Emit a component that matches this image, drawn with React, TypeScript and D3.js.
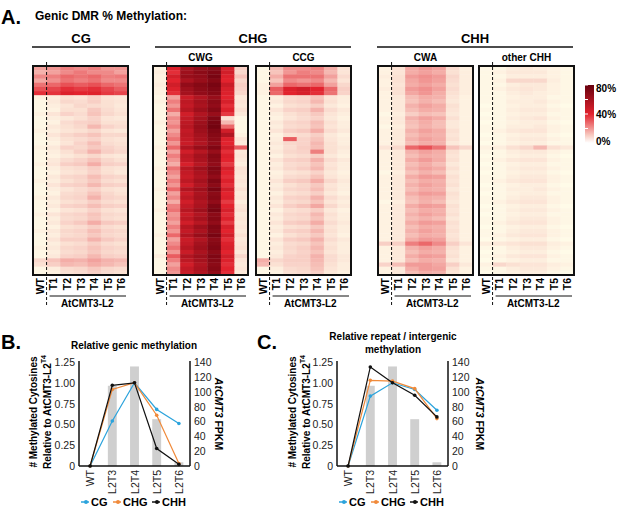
import * as d3 from "d3";

const FONT = "Arial, 'Liberation Sans', Helvetica, sans-serif";

// ---- panel A: genic DMR methylation (% per row, columns WT, T1..T6) ----
const SAMPLES = ["WT", "T1", "T2", "T3", "T4", "T5", "T6"];

const CG_ROWS = [
  "18 20 24 22 24 20 20", "15 18 22 25 22 22 18", "22 24 28 26 28 24 25",
  "17 21 26 24 26 22 22", "26 28 32 30 32 28 26", "32 34 38 36 38 34 30",
  "38 37 42 40 41 36 34", "2 3 6 5 9 5 4", "1 4 8 7 10 6 5", "1 3 5 8 7 6 4",
  "1 2 6 6 11 7 5", "2 5 9 7 12 8 6", "1 3 4 6 9 5 4", "1 2 7 9 10 6 6",
  "1 4 6 8 14 9 7", "2 3 5 6 8 5 4", "1 5 8 10 12 8 8", "1 3 6 7 9 6 5",
  "1 2 5 9 13 7 6", "2 4 9 8 11 9 7", "1 3 6 10 15 10 8", "1 2 4 6 8 5 4",
  "1 4 7 9 12 8 6", "2 5 10 11 16 10 9", "1 3 6 7 10 6 5", "1 2 5 6 9 6 4",
  "1 4 8 9 13 9 8", "2 3 6 8 11 7 6", "1 5 9 10 14 10 9", "1 3 5 7 9 6 5",
  "1 2 7 8 12 8 6", "2 4 8 9 15 9 8", "1 3 6 7 10 7 6", "1 4 9 10 13 10 9",
  "1 2 5 6 9 6 5", "2 5 8 9 12 8 7", "1 3 7 8 11 7 6", "1 4 9 11 16 11 10",
  "1 2 6 7 10 7 6", "2 4 8 9 13 9 8", "1 3 7 8 11 8 7", "1 5 10 10 15 11 9",
  "1 3 6 7 10 7 6", "2 4 8 9 12 9 8", "1 3 7 8 11 8 7", "1 4 9 10 14 10 9",
  "8 12 16 15 18 15 14", "6 10 14 13 16 14 12", "1 3 7 8 11 8 7", "1 2 6 7 10 7 6",
];

const CWG_ROWS = [
  "2 42 60 66 70 44 10", "3 38 62 68 72 46 8", "2 45 64 66 74 42 12",
  "2 40 58 64 70 40 8", "3 46 66 70 74 48 10", "2 42 62 68 72 44 9",
  "2 38 60 66 70 42 8", "1 18 48 56 64 40 4", "2 24 52 60 68 44 5",
  "1 20 50 58 66 38 4", "1 26 54 62 70 42 6", "1 16 46 56 64 36 4",
  "1 22 50 60 72 6 1", "2 20 52 62 74 14 1", "1 24 54 64 76 28 1",
  "1 18 50 62 72 46 1", "1 22 52 60 70 56 2", "1 26 50 58 68 42 5",
  "1 20 48 56 66 40 4", "2 28 56 64 72 46 30", "1 18 46 54 64 38 4",
  "1 24 52 60 70 42 5", "1 20 50 58 68 40 4", "1 16 44 54 66 36 3",
  "2 26 54 62 72 44 6", "1 22 50 58 70 40 5", "1 18 48 56 66 38 4",
  "1 24 52 60 72 42 5", "1 20 46 56 68 38 4", "2 28 56 62 74 46 6",
  "1 18 48 58 68 40 4", "1 22 52 60 70 42 5", "1 16 46 56 66 36 3",
  "1 24 50 58 72 40 5", "2 26 54 62 74 44 6", "1 20 48 56 68 38 4",
  "1 22 52 60 70 42 5", "1 18 46 54 66 36 4", "1 24 54 62 72 44 5",
  "1 20 50 58 70 40 4", "2 28 56 64 74 46 6", "1 18 48 56 68 38 4",
  "1 22 50 60 70 42 5", "1 26 54 62 72 44 6", "1 20 48 58 68 40 4",
  "3 30 56 62 72 46 8", "1 24 52 60 70 42 5", "1 18 46 56 68 38 4",
  "1 22 50 58 70 40 5", "1 20 48 56 66 38 4",
];

const CCG_ROWS = [
  "1 14 22 22 24 16 6", "1 12 20 24 22 14 5", "1 16 26 26 26 18 7",
  "1 12 22 20 22 14 5", "2 18 28 26 28 18 8", "2 30 42 46 40 28 10",
  "2 28 40 44 38 26 9", "1 3 7 8 12 5 3", "1 4 8 9 14 6 3", "1 2 6 7 10 4 2",
  "1 5 9 10 15 7 4", "1 3 6 8 11 5 3", "1 2 5 7 9 4 2", "1 4 8 9 13 6 3",
  "1 3 7 8 12 5 3", "1 5 10 11 16 7 4", "1 2 6 7 10 4 2", "1 3 30 9 12 5 3",
  "1 4 8 9 14 6 3", "1 3 7 10 13 6 4", "1 4 8 9 24 6 3", "1 2 6 7 10 4 2",
  "1 5 9 10 15 7 4", "1 3 7 8 12 5 3", "1 4 8 10 14 6 3", "1 2 5 6 9 4 2",
  "1 3 7 8 12 5 3", "1 5 10 11 16 8 4", "1 3 6 8 11 5 3", "1 4 8 9 13 6 3",
  "1 2 6 7 10 4 2", "1 4 9 10 15 7 4", "1 3 7 8 12 5 3", "1 5 10 12 17 8 4",
  "1 2 6 7 10 4 2", "1 4 8 9 14 6 3", "1 3 7 8 12 5 3", "1 5 10 11 16 7 4",
  "1 3 6 7 11 5 3", "1 4 9 10 14 6 3", "1 2 6 8 11 5 2", "1 5 10 11 15 7 4",
  "1 3 7 8 12 5 3", "1 4 8 10 14 6 3", "1 3 7 9 12 5 3", "1 4 9 10 15 7 4",
  "16 8 10 10 14 7 4", "14 6 9 9 13 6 3", "1 3 7 8 12 5 3", "1 2 6 7 10 4 2",
];

const CWA_ROWS = [
  "2 6 17 20 18 7 3", "2 5 16 18 16 6 3", "3 6 19 21 19 8 3",
  "2 6 17 20 18 7 3", "2 5 16 18 16 6 3", "3 6 19 21 18 7 3",
  "2 6 17 20 16 6 3", "2 4 13 16 15 5 2", "2 4 12 15 13 4 2",
  "2 4 15 18 16 6 2", "2 4 13 16 15 5 2", "1 3 10 13 12 4 2",
  "2 4 15 18 16 6 2", "2 4 13 16 13 4 2", "1 3 12 15 13 4 2",
  "2 4 15 18 16 6 2", "2 4 13 16 15 5 2", "2 4 15 18 16 6 2",
  "2 4 13 16 15 4 2", "5 8 28 32 26 12 8", "2 4 15 18 16 6 2",
  "2 4 13 16 15 5 2", "2 4 16 19 16 6 2", "2 4 13 16 13 4 2",
  "2 4 15 18 16 6 2", "1 3 12 15 13 4 2", "2 4 16 19 18 6 2",
  "2 4 13 16 15 5 2", "2 4 15 18 16 6 2", "2 4 13 16 15 4 2",
  "2 4 16 19 18 6 2", "2 4 13 16 15 5 2", "1 3 12 15 13 4 2",
  "2 4 16 19 18 6 2", "2 4 13 16 15 5 2", "2 4 15 18 16 6 2",
  "2 4 13 15 13 4 2", "2 4 16 19 18 6 2", "2 4 13 16 15 5 2",
  "2 4 15 18 16 6 2", "2 4 13 16 15 5 2", "2 4 16 19 18 6 2",
  "10 10 24 28 22 10 5", "2 4 15 18 16 6 2", "2 4 13 16 15 5 2",
  "2 4 16 19 18 6 2", "2 4 13 16 15 4 2", "9 13 19 19 17 10 4",
  "2 4 16 19 18 6 2", "2 4 13 16 15 5 2",
];

const OTHER_CHH_ROWS = [
  "1 1 3 4 3 2 1", "1 2 4 4 4 2 1", "1 1 3 3 3 2 1", "1 2 8 8 8 3 1",
  "1 1 3 4 4 2 1", "1 2 4 5 4 2 1", "1 1 3 4 3 2 1", "1 1 2 3 3 1 1",
  "1 1 3 3 4 2 1", "0 1 2 3 3 1 0", "1 1 3 4 4 2 1", "0 1 2 3 3 1 1",
  "1 1 3 4 5 2 1", "0 1 2 3 3 1 0", "1 1 3 3 4 2 1", "1 2 4 5 5 2 1",
  "0 1 2 3 3 1 0", "1 1 3 4 4 2 1", "0 1 2 3 3 1 1", "2 3 6 8 14 6 4",
  "1 1 3 4 4 2 1", "0 1 2 3 3 1 0", "1 2 4 5 5 2 1", "0 1 2 3 3 1 1",
  "1 1 3 4 4 2 1", "0 1 2 3 3 1 0", "1 1 3 4 4 2 1", "1 2 4 5 5 2 1",
  "0 1 2 3 3 1 0", "1 1 3 3 4 2 1", "0 1 2 3 3 1 1", "1 1 3 4 4 2 1",
  "1 2 4 5 5 2 1", "0 1 2 3 3 1 0", "1 1 3 4 4 2 1", "0 1 2 3 3 1 1",
  "1 1 3 4 4 2 1", "1 2 4 5 5 2 1", "0 1 2 3 3 1 0", "1 1 3 4 4 2 1",
  "1 2 4 5 5 2 1", "0 1 2 3 3 1 0", "3 4 5 6 6 3 2", "1 1 3 4 4 2 1",
  "0 1 2 3 3 1 0", "1 2 4 5 5 2 1", "0 1 2 3 3 1 1", "2 8 6 5 5 3 2",
  "1 1 3 4 4 2 1", "0 1 2 3 3 1 0",
];

const LEGEND_TICKS = [0, 40, 80];

// ---- panels B and C ----
const LINES = ["WT", "L2T3", "L2T4", "L2T5", "L2T6"];
const FPKM = [0, 108, 134, 63, 5];
const GENIC_CG = [0, 0.54, 1.0, 0.68, 0.51];
const GENIC_CHG = [0, 0.92, 1.0, 0.61, 0.03];
const GENIC_CHH = [0, 0.97, 1.0, 0.21, 0.02];
const REPEAT_CG = [0, 0.84, 1.0, 0.92, 0.67];
const REPEAT_CHG = [0, 1.03, 1.02, 0.93, 0.57];
const REPEAT_CHH = [0, 1.19, 1.0, 0.85, 0.59];
const LEFT_TICKS = [0, 0.25, 0.5, 0.75, 1.0, 1.25];
const RIGHT_TICKS = [0, 20, 40, 60, 80, 100, 120, 140];
const CONTEXTS = ["CG", "CHG", "CHH"];

const BLUE = "#2ba3dc";
const ORANGE = "#f08a3a";
const BLACK = "#111";

const heat = d3
  .scaleLinear<string>()
  .domain([0, 10, 40, 80])
  .range(["#fffbe8", "#f8cfc5", "#e2232e", "#67000d"])
  .interpolate(d3.interpolateRgb)
  .clamp(true);

const HEAT_TOP = 66;
const HEAT_BOTTOM = 275;
const PANEL_W = 95;

const Heatmap = ({ x, rows }: { x: number; rows: string[] }) => {
  const data = rows.map((r) => r.split(" ").map(Number));
  const xs = d3.scaleBand<string>().domain(SAMPLES).range([x, x + PANEL_W]);
  const ys = d3
    .scaleBand<number>()
    .domain(d3.range(data.length))
    .range([HEAT_TOP, HEAT_BOTTOM]);
  const dashX = xs("T1")!;

  return (
    <g>
      {data.map((row, i) =>
        row.map((v, j) => (
          <rect
            key={i + "-" + j}
            x={xs(SAMPLES[j])}
            y={ys(i)}
            width={xs.bandwidth() + 0.4}
            height={ys.bandwidth() + 0.4}
            fill={heat(v)}
          />
        ))
      )}
      <rect
        x={x}
        y={HEAT_TOP}
        width={PANEL_W}
        height={HEAT_BOTTOM - HEAT_TOP}
        fill="none"
        stroke="#111"
        strokeWidth={2}
      />
      <line x1={dashX} x2={dashX} y1={62} y2={307} stroke="#111" strokeWidth={1} strokeDasharray="3,2" />
      {SAMPLES.map((s) => (
        <text
          key={s}
          transform={`translate(${xs(s)! + xs.bandwidth() / 2},278) rotate(-90)`}
          textAnchor="end"
          dominantBaseline="central"
          fontSize={10.5}
          fontWeight="bold"
        >
          {s}
        </text>
      ))}
      <line x1={dashX + 3} x2={x + PANEL_W - 2} y1={296} y2={296} stroke="#111" strokeWidth={1} />
      <text x={(dashX + x + PANEL_W) / 2} y={307} textAnchor="middle" fontSize={10} fontWeight="bold">
        AtCMT3-L2
      </text>
    </g>
  );
};

const GroupHeader = ({ x0, x1, label }: { x0: number; x1: number; label: string }) => (
  <g>
    <text x={(x0 + x1) / 2} y={43} textAnchor="middle" fontSize={13} fontWeight="bold">
      {label}
    </text>
    <line x1={x0} x2={x1} y1={47} y2={47} stroke="#111" strokeWidth={1.5} />
  </g>
);

const SubHeader = ({ x, label }: { x: number; label: string }) => (
  <text x={x + PANEL_W / 2} y={61} textAnchor="middle" fontSize={10} fontWeight="bold">
    {label}
  </text>
);

const ColorLegend = () => {
  const y = d3.scaleLinear().domain([0, 80]).range([143, 85]);
  const stops = d3.range(0, 81, 10);
  return (
    <g>
      <defs>
        <linearGradient id="heatGrad" x1="0" y1="1" x2="0" y2="0">
          {stops.map((s) => (
            <stop key={s} offset={s / 80} stopColor={s === 0 ? "#ffffff" : heat(s)} />
          ))}
        </linearGradient>
      </defs>
      <rect x={585} y={85} width={9} height={58} fill="url(#heatGrad)" />
      {[0, 20, 40, 60, 80].map((t) => (
        <line key={t} x1={585} x2={588} y1={y(t)} y2={y(t)} stroke="#fff" strokeWidth={1} />
      ))}
      {LEGEND_TICKS.map((t) => (
        <text key={t} x={596} y={y(t) + (t === 0 ? -2 : t === 80 ? 3 : 0)} dominantBaseline="central" fontSize={10} fontWeight="bold">
          {t}%
        </text>
      ))}
    </g>
  );
};

type MethylProps = {
  x0: number;
  x1: number;
  cg: number[];
  chg: number[];
  chh: number[];
  titleX1: number;
  titleX2: number;
  fpkmX: number;
};

const MethylPanel = ({ x0, x1, cg, chg, chh, titleX1, titleX2, fpkmX }: MethylProps) => {
  const xs = d3.scaleBand<string>().domain(LINES).range([x0, x1]).paddingInner(0.6).paddingOuter(0.3);
  const cx = (d: string) => xs(d)! + xs.bandwidth() / 2;
  const yL = d3.scaleLinear().domain([0, 1.25]).range([466, 362]);
  const yR = d3.scaleLinear().domain([0, 140]).range([466, 362]);
  const line = d3
    .line<number>()
    .x((_, i) => cx(LINES[i]))
    .y((v) => yL(v));
  const series = [
    { values: cg, color: BLUE },
    { values: chg, color: ORANGE },
    { values: chh, color: BLACK },
  ];
  const midY = 412;
  const legendX = [2, 34, 73];

  return (
    <g>
      {FPKM.map((v, i) => (
        <rect
          key={i}
          x={xs(LINES[i])}
          y={yR(v)}
          width={xs.bandwidth()}
          height={yR(0) - yR(v)}
          fill="#cfcfcf"
        />
      ))}
      {series.map((s, k) => (
        <g key={k}>
          <path d={line(s.values)!} fill="none" stroke={s.color} strokeWidth={1.2} />
          {s.values.map((v, i) => (
            <circle key={i} cx={cx(LINES[i])} cy={yL(v)} r={1.8} fill={s.color} />
          ))}
        </g>
      ))}
      <line x1={x0} x2={x0} y1={361} y2={466} stroke="#111" strokeWidth={1.5} />
      <line x1={x1} x2={x1} y1={361} y2={466} stroke="#111" strokeWidth={1.5} />
      <line x1={x0} x2={x1} y1={466} y2={466} stroke="#111" strokeWidth={1.5} />
      {LEFT_TICKS.map((t) => (
        <text key={t} x={x0 - 4} y={yL(t)} textAnchor="end" dominantBaseline="central" fontSize={10.5} fill="#222">
          {t === 0 ? "0" : t.toFixed(2)}
        </text>
      ))}
      {RIGHT_TICKS.map((t) => (
        <text key={t} x={x1 + 4} y={yR(t)} dominantBaseline="central" fontSize={10.5} fill="#222">
          {t}
        </text>
      ))}
      {LINES.map((d) => (
        <text
          key={d}
          transform={`translate(${cx(d)},470) rotate(-90)`}
          textAnchor="end"
          dominantBaseline="central"
          fontSize={10.5}
          fill="#222"
        >
          {d}
        </text>
      ))}
      <text transform={`translate(${titleX1},${midY}) rotate(-90)`} textAnchor="middle" dominantBaseline="central" fontSize={10} fontWeight="bold">
        # Methylated Cytosines
      </text>
      <text transform={`translate(${titleX2},${midY}) rotate(-90)`} textAnchor="middle" dominantBaseline="central" fontSize={10} fontWeight="bold">
        Relative to AtCMT3-L2
        <tspan fontSize={7} dy={-4}>T4</tspan>
      </text>
      <text transform={`translate(${fpkmX},414) rotate(90)`} textAnchor="middle" dominantBaseline="central" fontSize={10.5} fontWeight="bold">
        <tspan fontStyle="italic">AtCMT3</tspan> FPKM
      </text>
      {series.map((s, k) => {
        const lx = x0 + legendX[k];
        return (
          <g key={CONTEXTS[k]}>
            <line x1={lx} x2={lx + 8} y1={502} y2={502} stroke={s.color} strokeWidth={1.5} />
            <circle cx={lx + 5} cy={502} r={2} fill={s.color} />
            <text x={lx + 10} y={506} fontSize={11} fontWeight="bold">
              {CONTEXTS[k]}
            </text>
          </g>
        );
      })}
    </g>
  );
};

const HEAT_PANELS = [
  { x: 33, rows: CG_ROWS, sub: "" },
  { x: 153, rows: CWG_ROWS, sub: "CWG" },
  { x: 256, rows: CCG_ROWS, sub: "CCG" },
  { x: 378, rows: CWA_ROWS, sub: "CWA" },
  { x: 479, rows: OTHER_CHH_ROWS, sub: "other CHH" },
];

export default function App() {
  return (
    <svg
      width={617}
      height={510}
      style={{ position: "absolute", left: 0, top: 0, background: "#fff" }}
      fontFamily={FONT}
    >
      <text x={1} y={24} fontSize={20} fontWeight="bold">A.</text>
      <text x={35} y={20} fontSize={12} fontWeight="bold">Genic DMR % Methylation:</text>

      <GroupHeader x0={32} x1={130} label="CG" />
      <GroupHeader x0={155} x1={351} label="CHG" />
      <GroupHeader x0={377} x1={573} label="CHH" />
      {HEAT_PANELS.map((p) => (
        <g key={p.x}>
          {p.sub && <SubHeader x={p.x} label={p.sub} />}
          <Heatmap x={p.x} rows={p.rows} />
        </g>
      ))}
      <ColorLegend />

      <text x={1} y={349} fontSize={20} fontWeight="bold">B.</text>
      <text x={134} y={349} textAnchor="middle" fontSize={10} fontWeight="bold">
        Relative genic methylation
      </text>
      <MethylPanel x0={79} x1={190} cg={GENIC_CG} chg={GENIC_CHG} chh={GENIC_CHH} titleX1={33} titleX2={47} fpkmX={219} />

      <text x={257} y={349} fontSize={20} fontWeight="bold">C.</text>
      <text x={393} y={340} textAnchor="middle" fontSize={10} fontWeight="bold">
        Relative repeat / intergenic
      </text>
      <text x={393} y={353} textAnchor="middle" fontSize={10} fontWeight="bold">
        methylation
      </text>
      <MethylPanel x0={337} x1={448} cg={REPEAT_CG} chg={REPEAT_CHG} chh={REPEAT_CHH} titleX1={292} titleX2={306} fpkmX={480} />
    </svg>
  );
}
